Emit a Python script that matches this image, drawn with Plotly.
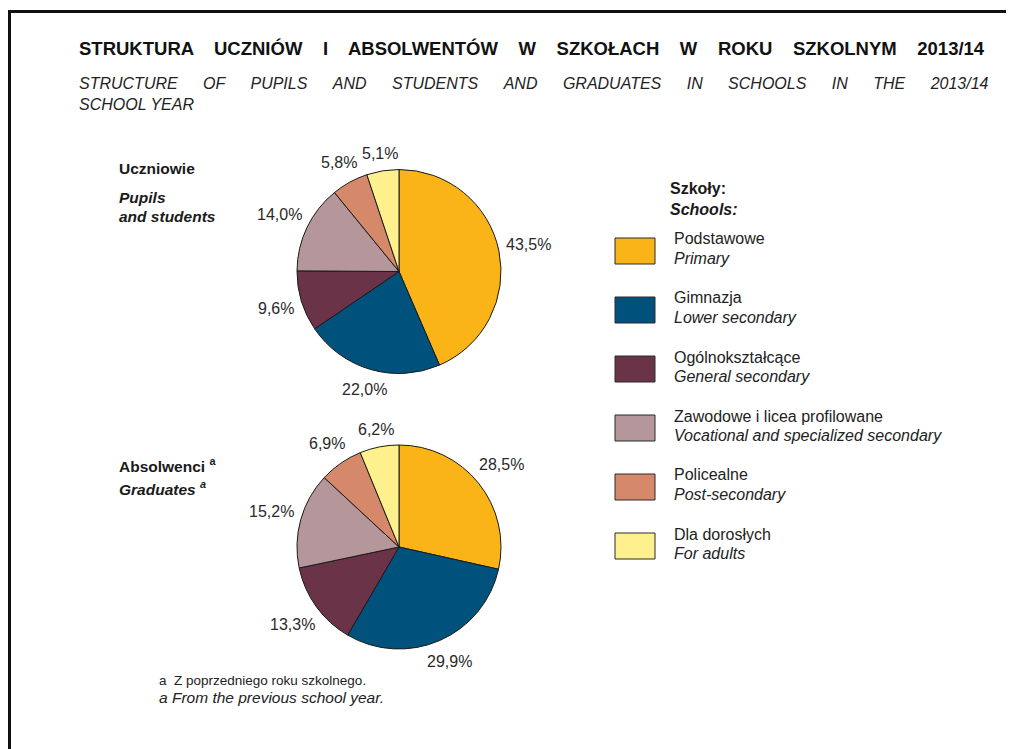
import math
import plotly.graph_objects as go

OFF = 8  # page body margin
W, H = 1006, 741

categories_pl = ["Podstawowe", "Gimnazja", "Ogólnokształcące", "Zawodowe i licea profilowane", "Policealne", "Dla dorosłych"]
categories_en = ["Primary", "Lower secondary", "General secondary", "Vocational and specialized secondary", "Post-secondary", "For adults"]
pupils = [43.5, 22.0, 9.6, 14.0, 5.8, 5.1]
graduates = [28.5, 29.9, 13.3, 15.2, 6.9, 6.2]
colors = ["#FBB417", "#00527D", "#6B3347", "#B5979B", "#D6886A", "#FFF08E"]

FONT = "Arial, Liberation Sans, sans-serif"


def px_x(x):
    return (x - OFF) / W


def px_y(y):
    return 1 - (y - OFF) / H


annotations = []


def txt(x, y, s, size=16, bold=False, italic=False, color="#1a1a1a", family=FONT, xanchor="left"):
    if bold:
        s = "<b>" + s + "</b>"
    if italic:
        s = "<i>" + s + "</i>"
    annotations.append(dict(x=px_x(x), y=px_y(y), xref="paper", yref="paper", text=s,
                            showarrow=False, xanchor=xanchor, yanchor="middle",
                            font=dict(family=family, size=size, color=color), align="left"))


fig = go.Figure()
R = 102
LABEL_SIZE = 16
for vals, (cx, cy) in [(pupils, (399, 271.5)), (graduates, (399, 547))]:
    fig.add_trace(go.Pie(
        labels=categories_en, values=vals, sort=False, direction="clockwise", rotation=0,
        marker=dict(colors=colors, line=dict(color="#1a1a1a", width=1)),
        textinfo="none",
        domain=dict(x=[px_x(cx - R), px_x(cx + R)], y=[px_y(cy + R), px_y(cy - R)]),
        showlegend=False, hoverinfo="label+value",
    ))
    # percentage labels placed outside each slice, at its mid-angle
    total = sum(vals)
    cum = 0.0
    for v in vals:
        theta = 2 * math.pi * (cum + v / 2) / total
        cum += v
        s = f"{v:.1f}".replace(".", ",") + "%"
        w = 0.56 * LABEL_SIZE * (len(s) - 2) + 0.28 * LABEL_SIZE + 0.89 * LABEL_SIZE
        h = LABEL_SIZE * 1.1
        d = 6 + abs(math.sin(theta)) * w / 2 + abs(math.cos(theta)) * h / 2
        lx = cx + (R + d) * math.sin(theta)
        ly = cy - (R + d) * math.cos(theta)
        txt(lx, ly, s, size=LABEL_SIZE, color="#2a2a2a", xanchor="center")

GAP_T = " " * 4
GAP_S = " " * 5 + "\u2009"
title_pl = ["STRUKTURA", "UCZNIÓW", "I", "ABSOLWENTÓW", "W", "SZKOŁACH", "W", "ROKU", "SZKOLNYM", "2013/14"]
title_en = ["STRUCTURE", "OF", "PUPILS", "AND", "STUDENTS", "AND", "GRADUATES", "IN", "SCHOOLS", "IN", "THE", "2013/14"]
txt(77, 49, GAP_T.join(title_pl), size=18.5, bold=True, color="#111")
txt(77, 84, GAP_S.join(title_en), size=16, italic=True, color="#222")
txt(77, 104, "SCHOOL YEAR", size=16, italic=True, color="#222")

txt(117, 168, "Uczniowie", size=15.5, bold=True)
txt(117, 198, "Pupils", size=15.5, bold=True, italic=True)
txt(117, 216, "and students", size=15.5, bold=True, italic=True)
txt(117, 465, "Absolwenci <sup>a</sup>", size=15.5, bold=True)
txt(117, 488, "Graduates <sup>a</sup>", size=15.5, bold=True, italic=True)

txt(668, 189, "Szkoły:", size=16, bold=True)
txt(668, 209, "Schools:", size=16, bold=True, italic=True)

shapes = []
for i, (pl, en, c) in enumerate(zip(categories_pl, categories_en, colors)):
    top = 238 + 59 * i
    shapes.append(dict(type="rect", xref="paper", yref="paper",
                       x0=px_x(615), x1=px_x(655), y0=px_y(top + 26), y1=px_y(top),
                       fillcolor=c, line=dict(color="#2a2a2a", width=1)))
    txt(672, top + 1, pl, color="#222")
    txt(672, top + 20, en, italic=True, color="#222")

txt(157, 680, "a  Z poprzedniego roku szkolnego.", size=13.5, color="#222")
txt(157, 697, "a From the previous school year.", size=15.5, italic=True, color="#222")

# frame: open path along the left and top edges
fx, fy = px_x(9.5), px_y(11.5)
shapes.append(dict(type="path", xref="paper", yref="paper",
                   path=f"M {fx} -0.05 L {fx} {fy} L 1.05 {fy}",
                   fillcolor="rgba(0,0,0,0)", line=dict(color="#111", width=3)))

fig.update_layout(
    width=W, height=H, margin=dict(l=0, r=0, t=0, b=0),
    paper_bgcolor="white", plot_bgcolor="white",
    annotations=annotations, shapes=shapes,
    font=dict(family=FONT),
)

fig.write_html("out.html")
